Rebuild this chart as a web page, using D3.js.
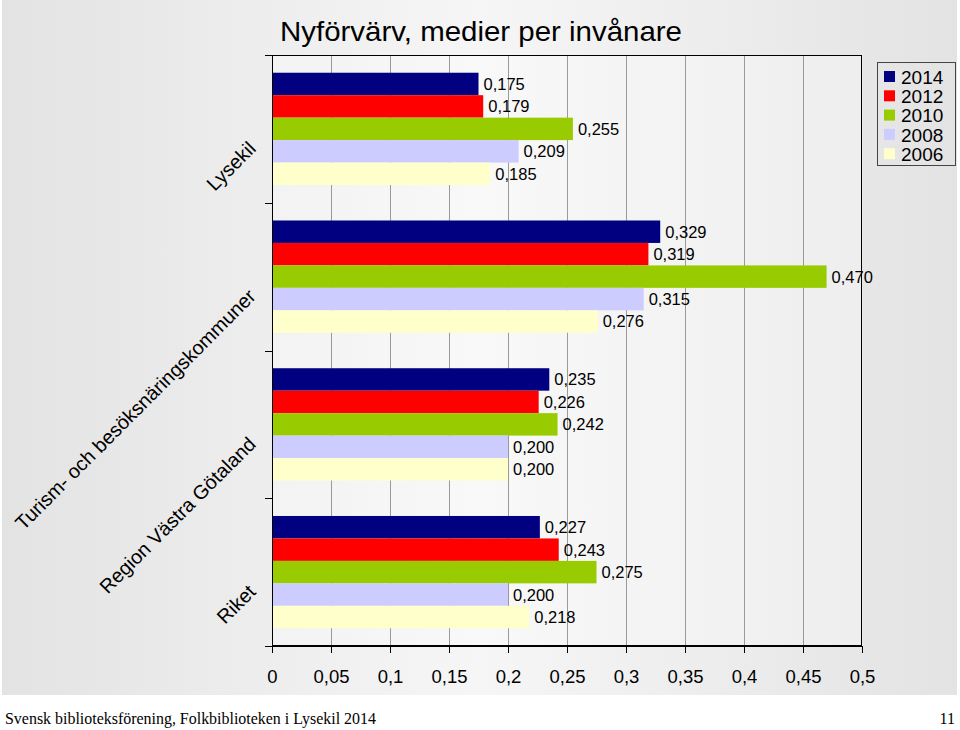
<!DOCTYPE html>
<html><head><meta charset="utf-8">
<script src="https://cdn.jsdelivr.net/npm/d3@7"></script>
<style>body{margin:0;background:#fff}svg{display:block}</style>
</head><body>
<script>
const categories = ["Lysekil","Turism- och besöksnäringskommuner","Region Västra Götaland","Riket"];
const years = ["2014","2012","2010","2008","2006"];
const colors = ["#000080","#ff0000","#99cc00","#ccccff","#ffffcc"];
const v2014 = [0.175,0.329,0.235,0.227];
const v2012 = [0.179,0.319,0.226,0.243];
const v2010 = [0.255,0.470,0.242,0.275];
const v2008 = [0.209,0.315,0.200,0.200];
const v2006 = [0.185,0.276,0.200,0.218];
const seriesValues = [v2014,v2012,v2010,v2008,v2006];
const xTicks = [0,0.05,0.1,0.15,0.2,0.25,0.3,0.35,0.4,0.45,0.5];
const title = "Nyförvärv, medier per invånare";
const footer = "Svensk biblioteksförening, Folkbiblioteken i Lysekil 2014";
const pageNo = "11";

const W=960,H=730;
const svg=d3.select("body").append("svg").attr("width",W).attr("height",H);
const defs=svg.append("defs");
const g1=defs.append("linearGradient").attr("id","bg").attr("x1","0").attr("x2","1").attr("y1","0").attr("y2","0");
g1.append("stop").attr("offset","0%").attr("stop-color","#e3e3e3");
g1.append("stop").attr("offset","50%").attr("stop-color","#f6f6f6");
g1.append("stop").attr("offset","100%").attr("stop-color","#e3e3e3");
svg.append("rect").attr("x",2).attr("y",0).attr("width",955).attr("height",695).attr("fill","url(#bg)");

const L=272,R=862,T=55,B=646;
const x=d3.scaleLinear().domain([0,0.5]).range([L,R]);
const y=d3.scaleBand().domain(categories).range([T,B]).paddingInner(0).paddingOuter(0);
const bw=y.bandwidth();
const pad=bw*0.12;
const yi=d3.scaleBand().domain(years).range([pad,bw-pad]);

svg.append("rect").attr("x",L).attr("y",T).attr("width",R-L).attr("height",B-T).attr("fill","#fff").attr("fill-opacity",0.3);

// gridlines
svg.append("g").selectAll("line").data(xTicks.filter(t=>t>0&&t<0.5)).join("line")
 .attr("x1",d=>Math.round(x(d))+0.5).attr("x2",d=>Math.round(x(d))+0.5).attr("y1",T).attr("y2",B)
 .attr("stroke","#9a9a9a").attr("stroke-width",1);

// bars
const rows=[];
categories.forEach((c,ci)=>years.forEach((yr,si)=>rows.push({c,yr,si,v:seriesValues[si][ci]})));
svg.append("g").selectAll("rect").data(rows).join("rect")
 .attr("x",x(0)).attr("y",d=>y(d.c)+yi(d.yr)).attr("width",d=>x(d.v)-x(0)).attr("height",yi.bandwidth())
 .attr("fill",d=>colors[d.si]);

// value labels
svg.append("g").selectAll("text").data(rows).join("text")
 .attr("x",d=>x(d.v)+5).attr("y",d=>y(d.c)+yi(d.yr)+yi.bandwidth()/2).attr("dy","0.36em")
 .attr("font-family","Liberation Sans, Arial, sans-serif").attr("font-size",16.5).attr("fill","#000")
 .text(d=>d3.format(".3f")(d.v).replace(".",","));

// frame
svg.append("rect").attr("x",L+0.5).attr("y",T+0.5).attr("width",R-L-1).attr("height",B-T-1).attr("fill","none").attr("stroke","#000").attr("stroke-width",1);

// x axis
const xAxis=d3.axisBottom(x).tickValues(xTicks).tickSize(7).tickSizeOuter(0).tickFormat(d=>String(d).replace(".",","));
const gx=svg.append("g").attr("transform",`translate(0,${B})`).call(xAxis);
gx.select(".domain").attr("stroke","#000");
gx.selectAll(".tick line").attr("stroke","#000");
gx.selectAll("text").attr("font-family","Liberation Sans, Arial, sans-serif").attr("font-size",18.5).attr("fill","#000").attr("dy","1.45em");

// y axis ticks (boundaries)
const bounds=categories.map(c=>y(c)).concat([B]);
svg.append("g").selectAll("line").data(bounds).join("line")
 .attr("x1",L-7).attr("x2",L).attr("y1",d=>Math.round(d)+0.5).attr("y2",d=>Math.round(d)+0.5).attr("stroke","#000");

// category labels
svg.append("g").selectAll("text").data(categories).join("text")
 .attr("transform",c=>`translate(257,${y(c)+bw/2+21}) rotate(-45)`)
 .attr("text-anchor","end").attr("font-family","Liberation Sans, Arial, sans-serif").attr("font-size",19.8).attr("fill","#000")
 .text(c=>c);

// title
svg.append("text").attr("x",280).attr("y",41).attr("font-family","Liberation Sans, Arial, sans-serif").attr("font-size",28).attr("textLength",402).attr("lengthAdjust","spacingAndGlyphs").attr("fill","#000").text(title);

// legend
const lg=svg.append("g");
lg.append("rect").attr("x",877.5).attr("y",62.5).attr("width",78).attr("height",103).attr("fill","none").attr("stroke","#444");
years.forEach((yr,i)=>{
  const cy=77+i*19.3;
  lg.append("rect").attr("x",884).attr("y",cy-6).attr("width",11).attr("height",11).attr("fill",colors[i]);
  lg.append("text").attr("x",901).attr("y",cy).attr("dy","0.36em").attr("font-family","Liberation Sans, Arial, sans-serif").attr("font-size",19).attr("fill","#000").text(yr);
});

// footer
svg.append("text").attr("x",5).attr("y",724).attr("font-family","Liberation Serif, Times New Roman, serif").attr("font-size",16).attr("textLength",371).attr("lengthAdjust","spacingAndGlyphs").attr("fill","#000").text(footer);
svg.append("text").attr("x",955).attr("y",724).attr("text-anchor","end").attr("font-family","Liberation Serif, Times New Roman, serif").attr("font-size",16).attr("fill","#000").text(pageNo);
</script>
</body></html>
